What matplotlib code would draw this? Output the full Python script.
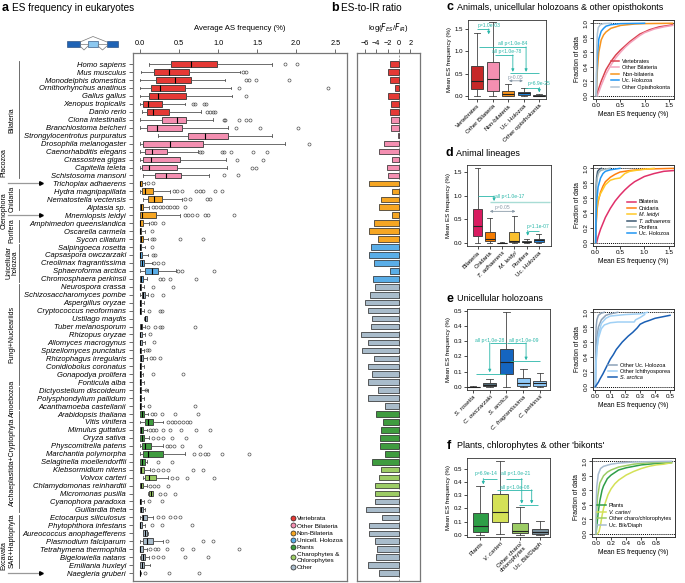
import numpy as np
import matplotlib.pyplot as plt
import matplotlib.transforms as mtransforms
from matplotlib.lines import Line2D
from matplotlib.patches import Rectangle

plt.rcParams['font.family'] = ['Liberation Sans', 'DejaVu Sans']

W, H = 685, 583

# ---------------- panel a / b data ----------------
species = [
    "Homo sapiens", "Mus musculus", "Monodelphis domestica", "Ornithorhynchus anatinus",
    "Gallus gallus", "Xenopus tropicalis", "Danio rerio", "Ciona intestinalis",
    "Branchiostoma belcheri", "Strongylocentrotus purpuratus", "Drosophila melanogaster",
    "Caenorhabditis elegans", "Crassostrea gigas", "Capitella teleta", "Schistosoma mansoni",
    "Trichoplax adhaerens", "Hydra magnipapillata", "Nematostella vectensis", "Aiptasia sp.",
    "Mnemiopsis leidyi", "Amphimedon queenslandica", "Oscarella carmela", "Sycon ciliatum",
    "Salpingoeca rosetta", "Capsaspora owczarzaki", "Creolimax fragrantissima",
    "Sphaeroforma arctica", "Chromosphaera perkinsii", "Neurospora crassa",
    "Schizosaccharomyces pombe", "Aspergillus oryzae", "Cryptococcus neoformans",
    "Ustilago maydis", "Tuber melanosporum", "Rhizopus oryzae", "Allomyces macrogynus",
    "Spizellomyces punctatus", "Rhizophagus irregularis", "Conidiobolus coronatus",
    "Gonapodya prolifera", "Fonticula alba", "Dictyostelium discoideum",
    "Polysphondylium pallidum", "Acanthamoeba castellanii", "Arabidopsis thaliana",
    "Vitis vinifera", "Mimulus guttatus", "Oryza sativa", "Physcomitrella patens",
    "Marchantia polymorpha", "Selaginella moellendorffii", "Klebsormidium nitens",
    "Volvox carteri", "Chlamydomonas reinhardtii", "Micromonas pusilla",
    "Cyanophora paradoxa", "Guillardia theta", "Ectocarpus siliculosus",
    "Phytophthora infestans", "Aureococcus anophagefferens", "Plasmodium falciparum",
    "Tetrahymena thermophila", "Bigelowiella natans", "Emiliania huxleyi", "Naegleria gruberi",
]
species_group = (["V"] * 7 + ["B"] * 8 + ["N"] * 8 + ["U"] * 5 + ["X"] * 16
                 + ["P"] * 7 + ["C"] * 4 + ["X"] * 10)

box_lo = [0.11, 0.01, 0.005, 0.005, 0.0, 0.005, 0.02, 0.005, 0.005, 0.235, 0.005, 0.005, 0.005,
          0.005, 0.035, 0.0, 0.005, 0.035, 0.0, 0.0, 0.0, 0.0, 0.0, 0.0, 0.0, 0.0, 0.0, 0.0,
          0.0, 0.0, 0.0, 0.0, 0.05, 0.0, 0.0, 0.0, 0.0, 0.0, 0.0, 0.0, 0.0, 0.0, 0.0, 0.0,
          0.0, 0.0, 0.0, 0.0, 0.0, 0.0, 0.0, 0.0, 0.035, 0.0, 0.10, 0.0, 0.0, 0.0, 0.0, 0.035,
          0.0, 0.0, 0.0, 0.0, 0.0]
box_q1 = [0.40, 0.18, 0.21, 0.135, 0.12, 0.04, 0.09, 0.28, 0.085, 0.62, 0.04, 0.065, 0.035,
          0.02, 0.19, 0.0, 0.02, 0.105, 0.0, 0.0, 0.0, 0.0, 0.0, 0.0, 0.0, 0.005, 0.07, 0.005,
          0.0, 0.02, 0.0, 0.0, 0.065, 0.0, 0.0, 0.0, 0.0, 0.005, 0.0, 0.0, 0.0, 0.0, 0.0, 0.0,
          0.005, 0.065, 0.005, 0.005, 0.02, 0.04, 0.005, 0.005, 0.07, 0.0, 0.12, 0.0, 0.005,
          0.02, 0.0, 0.04, 0.04, 0.0, 0.01, 0.005, 0.0]
box_med = [0.65, 0.37, 0.45, 0.255, 0.235, 0.105, 0.16, 0.47, 0.22, 0.83, 0.385, 0.15, 0.135,
           0.12, 0.33, 0.005, 0.065, 0.18, 0.01, 0.02, 0.005, 0.0, 0.01, 0.0, 0.005, 0.025,
           0.15, 0.015, 0.005, 0.04, 0.0, 0.0, 0.07, 0.01, 0.005, 0.005, 0.0, 0.015, 0.0,
           0.005, 0.0, 0.0, 0.0, 0.0, 0.02, 0.105, 0.01, 0.02, 0.065, 0.10, 0.03, 0.01, 0.12,
           0.01, 0.135, 0.0, 0.01, 0.04, 0.005, 0.065, 0.085, 0.005, 0.04, 0.02, 0.0]
box_q3 = [0.98, 0.63, 0.655, 0.57, 0.585, 0.28, 0.375, 0.59, 0.54, 1.13, 0.81, 0.35, 0.51,
          0.47, 0.52, 0.02, 0.17, 0.28, 0.04, 0.21, 0.04, 0.01, 0.04, 0.01, 0.02, 0.05, 0.225,
          0.035, 0.01, 0.07, 0.01, 0.01, 0.085, 0.03, 0.02, 0.02, 0.01, 0.04, 0.01, 0.015,
          0.015, 0.01, 0.015, 0.01, 0.05, 0.17, 0.04, 0.05, 0.135, 0.30, 0.065, 0.055, 0.21,
          0.035, 0.16, 0.01, 0.035, 0.085, 0.02, 0.095, 0.16, 0.035, 0.07, 0.055, 0.005]
box_hi = [1.69, 1.28, 1.09, 1.17, 1.175, 0.575, 0.78, 0.94, 1.12, 1.69, 1.86, 0.74, 1.10,
          1.11, 0.885, 0.065, 0.39, 0.535, 0.12, 0.51, 0.12, 0.07, 0.105, 0.065, 0.105, 0.15,
          0.455, 0.085, 0.05, 0.105, 0.05, 0.055, 0.095, 0.07, 0.065, 0.07, 0.05, 0.085, 0.05,
          0.04, 0.055, 0.105, 0.05, 0.05, 0.105, 0.30, 0.085, 0.12, 0.30, 0.575, 0.085, 0.13,
          0.36, 0.085, 0.17, 0.055, 0.07, 0.17, 0.065, 0.105, 0.30, 0.085, 0.12, 0.13, 0.01]
box_fliers = [
    [1.86, 2.01], [1.32, 1.355], [1.355, 1.39, 1.48, 1.91], [1.27, 2.41], [1.355],
    [0.68, 0.705, 0.825, 0.84], [0.855, 0.90, 0.93, 0.96], [1.07, 1.09, 1.27, 1.355, 1.41],
    [1.23, 1.54, 2.02], [], [2.16], [0.77, 0.79, 1.055, 1.08, 1.16, 1.45, 1.62], [1.24, 1.57],
    [1.44, 1.48], [1.07, 1.25], [0.105, 0.17],
    [0.43, 0.47, 0.535, 0.72, 0.77, 0.80, 0.96, 1.055], [0.575, 0.64, 0.855, 0.90],
    [0.17, 0.21, 0.255, 0.30, 0.34, 0.385, 0.43, 0.47, 0.575],
    [0.575, 0.62, 0.66, 0.725, 0.83, 0.875, 1.20], [0.15, 0.19, 0.30], [0.15],
    [0.15, 0.18, 0.51, 0.80], [0.15], [0.16, 0.19], [0.18, 0.235, 0.30], [0.49, 0.535, 0.95],
    [0.255, 0.30, 0.385, 0.72], [0.16, 0.42], [0.15, 0.29], [], [0.12, 0.255, 0.285], [],
    [0.105, 0.19, 0.255, 0.285, 0.71], [0.13], [0.18], [0.085, 0.12], [0.135, 0.18, 0.255],
    [], [0.16, 0.545], [], [0.08], [], [0.12, 0.705], [0.15, 0.19, 0.28, 0.45, 0.74],
    [0.355, 0.405, 0.45, 0.50, 0.545, 0.60, 0.64],
    [0.13, 0.17, 0.21, 0.30, 0.39, 0.52, 0.715, 0.89], [0.17, 0.235, 0.30, 0.405, 0.585],
    [0.34, 0.39, 0.43, 0.54, 0.77], [0.69, 0.77, 0.83, 0.875, 1.05, 1.40], [0.235, 0.415],
    [0.17, 0.235, 0.30, 0.36, 0.68, 0.80], [0.405, 0.47, 0.60, 0.95],
    [0.13, 0.185, 0.235, 0.355], [0.255, 0.32, 0.45], [0.12, 0.28], [],
    [0.235, 0.30, 0.385, 0.45, 0.51], [0.15, 0.28, 0.67], [], [0.34, 0.81, 0.93],
    [0.13, 0.19, 0.235, 0.34, 0.535, 0.68, 1.27], [0.17, 0.235, 0.30, 0.575, 0.865], [],
    [0.06, 0.375, 0.75],
]
es_ir_log = [-1.5, -1.9, -1.5, -0.65, -1.9, -1.35, -1.5, -1.35, -1.35, -0.1, -2.6, -3.5, -1.2,
             -2.1, -1.9, -5.3, -1.2, -3.1, -3.5, -1.2, -4.4, -5.35, -3.7, -5.0, -5.2, -4.4,
             -1.65, -4.6, -4.3, -5.05, -6.05, -5.5, -4.75, -5.0, -6.75, -5.5, -6.45, -4.45,
             -5.5, -4.75, -5.5, -3.7, -5.5, -2.5, -4.0, -2.8, -3.1, -3.4, -3.4, -2.4, -4.75,
             -3.2, -3.5, -4.2, -4.2, -4.3, -5.75, -2.95, -5.2, -5.35, -4.3, -3.9, -4.1, -5.5,
             -3.5]

group_names = {"V": "Vertebrata", "B": "Other Bilateria", "N": "Non-Bilateria",
               "U": "Unicell. Holozoa", "P": "Plants", "C": "Charophytes &\nChlorophytes",
               "X": "Other"}
group_colors = {"V": "#e53935", "B": "#f48fb1", "N": "#f6a623", "U": "#5aaee8",
                "P": "#3f9c3f", "C": "#9ccc65", "X": "#a9bccb"}

clade_spans = [  # (first row, last row, label, arrow?)
    (0, 14, "Bilateria", False), (15, 15, "Placozoa", True), (16, 18, "Cnidaria", False),
    (19, 19, "Ctenophora", True), (20, 22, "Porifera", False),
    (23, 27, "Unicellular\nholozoa", False), (28, 40, "Fungi+Nucleariids", False),
    (41, 43, "Amoebozoa", False), (44, 56, "Archaeplastida+Cryptophyta", False),
    (57, 63, "SAR+Haptophyta", False), (64, 64, "Excavata", True),
]
# rows by which an arrowed clade name sits above its arrow
arrow_label_shift = {"Placozoa": -2.6, "Ctenophora": -0.6, "Excavata": -2.2}

# ---------------- panels c-f data ----------------
c_names = ["Vertebrates", "Other Bilateria", "Non-bilateria", "Uc. Holozoa", "Other opisthokonta"]
c_lo = [0.0, 0.0, 0.0, 0.0, 0.0]
c_q1 = [0.15, 0.11, 0.01, 0.02, 0.005]
c_med = [0.34, 0.37, 0.04, 0.06, 0.01]
c_q3 = [0.66, 0.75, 0.12, 0.10, 0.02]
c_hi = [1.40, 1.65, 0.26, 0.19, 0.04]
c_colors = ["#c62828", "#f48fb1", "#f7941d", "#1e88e5", "#455a64"]

d_names = ["Bilateria", "Cnidaria", "T. adhaerens", "M. leidyi", "Porifera", "Uc. Holozoa"]
d_lo = [0.0, 0.0, 0.0, 0.0, 0.0, 0.0]
d_q1 = [0.14, 0.04, 0.0, 0.02, 0.005, 0.02]
d_med = [0.36, 0.09, 0.0, 0.04, 0.015, 0.05]
d_q3 = [0.72, 0.22, 0.003, 0.23, 0.04, 0.08]
d_hi = [1.60, 0.52, 0.005, 0.57, 0.09, 0.18]
d_colors = ["#d81b60", "#f57c00", "#37474f", "#fbc02d", "#90a4ae", "#1e88e5"]

e_names = ["S. rosetta", "C. owczarzaki", "S. arctica", "C. fragrantissima", "C. perkinsii"]
e_lo = [0.0, 0.0, 0.0, 0.0, 0.0]
e_q1 = [0.0, 0.004, 0.085, 0.007, 0.007]
e_med = [0.0, 0.011, 0.16, 0.027, 0.022]
e_q3 = [0.001, 0.022, 0.25, 0.055, 0.04]
e_hi = [0.002, 0.053, 0.49, 0.12, 0.089]
e_colors = ["#37474f", "#546e7a", "#1565c0", "#90caf9", "#90caf9"]

f_names = ["Plants", "V. carteri", "Other charo/\nchlorophytes", "Uc. Bik/Diaph"]
f_lo = [0.0, 0.008, 0.0, 0.0]
f_q1 = [0.02, 0.10, 0.01, 0.005]
f_med = [0.068, 0.17, 0.025, 0.02]
f_q3 = [0.163, 0.305, 0.088, 0.045]
f_hi = [0.37, 0.555, 0.21, 0.105]
f_colors = ["#2e9e47", "#d4e157", "#9ccc65", "#78909c"]

# ECDF curves: (label, colour, x values, y values)
c_ecdf = [
    ("Vertebrates", "#d9434f",
     [0, 0.02, 0.05, 0.1, 0.2, 0.3, 0.4, 0.5, 0.6, 0.7, 0.8, 0.9, 1.0, 1.1, 1.2, 1.3, 1.4, 1.5, 1.58],
     [0, 0.04, 0.1, 0.2, 0.36, 0.47, 0.56, 0.63, 0.69, 0.75, 0.8, 0.85, 0.88, 0.91, 0.93, 0.95, 0.96, 0.97, 0.98]),
    ("Other Bilateria", "#f4a3bd",
     [0.02, 0.05, 0.1, 0.2, 0.3, 0.4, 0.5, 0.6, 0.7, 0.8, 0.9, 1.0, 1.2, 1.4, 1.58],
     [0, 0.05, 0.14, 0.3, 0.42, 0.52, 0.6, 0.67, 0.73, 0.78, 0.83, 0.87, 0.92, 0.95, 0.97]),
    ("Non-bilateria", "#f7941d",
     [0, 0.01, 0.02, 0.05, 0.1, 0.15, 0.2, 0.3, 0.5, 0.8, 1.0, 1.58],
     [0, 0.2, 0.35, 0.6, 0.77, 0.84, 0.88, 0.93, 0.97, 0.99, 0.995, 1.0]),
    ("Uc. Holozoa", "#2196f3",
     [0, 0.005, 0.02, 0.05, 0.1, 0.15, 0.2, 0.3, 0.5, 1.0],
     [0, 0.3, 0.55, 0.78, 0.89, 0.93, 0.96, 0.98, 0.995, 1.0]),
    ("Other Opisthokonta", "#b0c4d4",
     [0, 0.005, 0.01, 0.02, 0.04, 0.08, 0.15, 0.3],
     [0, 0.5, 0.7, 0.85, 0.94, 0.98, 0.995, 1.0]),
]
d_ecdf = [
    ("Bilateria", "#e0306a",
     [0.02, 0.05, 0.1, 0.2, 0.3, 0.4, 0.5, 0.6, 0.7, 0.8, 1.0, 1.2, 1.4, 1.6],
     [0, 0.08, 0.18, 0.34, 0.46, 0.56, 0.64, 0.71, 0.77, 0.82, 0.89, 0.93, 0.96, 0.97]),
    ("Cnidaria", "#ff7f0e",
     [0, 0.01, 0.03, 0.05, 0.1, 0.15, 0.2, 0.3, 0.4, 0.5, 0.7, 1.0, 1.6],
     [0, 0.25, 0.45, 0.55, 0.68, 0.76, 0.82, 0.88, 0.92, 0.95, 0.97, 0.99, 1.0]),
    ("M. leidyi", "#ffc928",
     [0, 0.01, 0.03, 0.05, 0.1, 0.2, 0.3, 0.4, 0.5, 0.6, 0.7, 0.9, 1.2],
     [0, 0.3, 0.5, 0.58, 0.66, 0.78, 0.84, 0.86, 0.87, 0.93, 0.96, 0.98, 1.0]),
    ("T. adhaerens", "#3d5a73",
     [0, 0.003, 0.01, 0.02, 0.04, 0.08, 0.12],
     [0, 0.4, 0.75, 0.88, 0.96, 0.99, 1.0]),
    ("Porifera", "#a0b4b8",
     [0, 0.003, 0.01, 0.03, 0.06, 0.1, 0.2, 0.3],
     [0, 0.45, 0.7, 0.87, 0.94, 0.97, 0.99, 1.0]),
    ("Uc. Holozoa", "#2196f3",
     [0, 0.005, 0.02, 0.05, 0.1, 0.15, 0.2, 0.3, 0.5],
     [0, 0.3, 0.55, 0.75, 0.87, 0.93, 0.96, 0.98, 1.0]),
]
e_ecdf = [
    ("Other Uc. Holozoa", "#8da2b8",
     [0, 0.002, 0.005, 0.01, 0.02, 0.04, 0.06], [0, 0.6, 0.8, 0.9, 0.96, 0.99, 1.0]),
    (None, "#8da2b8",
     [0, 0.003, 0.01, 0.02, 0.04, 0.07, 0.1, 0.15], [0, 0.35, 0.65, 0.8, 0.9, 0.96, 0.98, 1.0]),
    ("Other Ichthyosporea", "#9fd0f5",
     [0, 0.003, 0.01, 0.02, 0.04, 0.06, 0.1, 0.15, 0.2, 0.26, 0.27, 0.3, 0.33],
     [0, 0.3, 0.5, 0.65, 0.78, 0.83, 0.86, 0.87, 0.87, 0.87, 0.9, 0.93, 0.97]),
    (None, "#9fd0f5",
     [0, 0.003, 0.01, 0.02, 0.04, 0.07, 0.1, 0.15, 0.2, 0.3, 0.35],
     [0, 0.25, 0.5, 0.7, 0.85, 0.92, 0.95, 0.96, 0.97, 0.98, 1.0]),
    ("S. arctica", "#1a5fb4",
     [0, 0.01, 0.02, 0.03, 0.05, 0.07, 0.09, 0.1, 0.12, 0.14, 0.16, 0.18, 0.2, 0.22, 0.25,
      0.28, 0.3, 0.33, 0.36, 0.4, 0.45, 0.5],
     [0, 0.03, 0.06, 0.1, 0.17, 0.25, 0.33, 0.37, 0.43, 0.5, 0.55, 0.6, 0.64, 0.68, 0.73,
      0.79, 0.84, 0.87, 0.89, 0.92, 0.94, 0.96]),
]
f_ecdf = [
    ("Plants", "#2e9e47",
     [0, 0.01, 0.03, 0.05, 0.08, 0.1, 0.15, 0.2, 0.3, 0.4, 0.6, 0.8, 1.0],
     [0, 0.1, 0.3, 0.45, 0.6, 0.66, 0.76, 0.81, 0.88, 0.91, 0.95, 0.97, 0.98]),
    ("V. carteri", "#d4e157",
     [0.02, 0.04, 0.06, 0.08, 0.1, 0.13, 0.16, 0.2, 0.25, 0.3, 0.4, 0.5, 0.6, 0.7, 0.8, 0.9, 1.0],
     [0, 0.03, 0.12, 0.25, 0.35, 0.45, 0.54, 0.62, 0.69, 0.74, 0.81, 0.86, 0.9, 0.93, 0.95, 0.96, 0.98]),
    ("Other charo/chlorophytes", "#9ccc65",
     [0, 0.005, 0.02, 0.05, 0.1, 0.15, 0.2, 0.3, 0.5, 0.7, 1.0],
     [0, 0.25, 0.5, 0.7, 0.8, 0.85, 0.88, 0.92, 0.96, 0.98, 0.99]),
    ("Uc. Bik/Diaph", "#a8bcd0",
     [0, 0.003, 0.01, 0.03, 0.06, 0.1, 0.2, 0.3, 0.5, 1.0],
     [0, 0.4, 0.65, 0.82, 0.9, 0.93, 0.96, 0.975, 0.99, 1.0]),
]

TEAL = "#2ab7a9"
GREY_ARROW = "#8a9aa8"

fig = plt.figure(figsize=(W / 100, H / 100), dpi=100)


def add_ax(l, t, r, b):
    return fig.add_axes([l / W, 1 - b / H, (r - l) / W, (b - t) / H])


def fig_text(x, y, s, **kw):
    fig.text(x / W, 1 - y / H, s, **kw)


def panel_title(x, y, letter, title, size=7.2):
    fig_text(x, y, letter, fontsize=9, fontweight="bold", va="center", ha="left")
    fig_text(x + 10, y, title, fontsize=size, va="center", ha="left")


def style_spines(ax, color="#555555", lw=0.7):
    for sp in ax.spines.values():
        sp.set_color(color)
        sp.set_linewidth(lw)


# ---------------- panel a ----------------
rows = np.arange(len(species))
axa = add_ax(133, 53, 347, 581)
stats_a = [dict(med=m, q1=a, q3=b, whislo=lo, whishi=hi, fliers=f)
           for a, m, b, lo, hi, f in zip(box_q1, box_med, box_q3, box_lo, box_hi, box_fliers)]
bp = axa.bxp(stats_a, positions=rows, widths=0.72, orientation="horizontal",
             patch_artist=True, manage_ticks=False, capwidths=0.35,
             boxprops=dict(lw=0.6, edgecolor="#333333"),
             medianprops=dict(color="black", lw=0.8),
             whiskerprops=dict(color="#555555", lw=0.6),
             capprops=dict(color="#555555", lw=0.6),
             flierprops=dict(marker="o", ms=2.2, mfc="none", mec="#444444", mew=0.45))
for patch, g in zip(bp["boxes"], species_group):
    patch.set_facecolor(group_colors[g])

axa.set_ylim(65.0, -1.4)
axa.set_xlim(-0.09, 2.65)
axa.xaxis.tick_top()
axa.xaxis.set_label_position("top")
axa.set_xticks([0, 0.5, 1.0, 1.5, 2.0, 2.5])
axa.set_xticklabels(["0.0", "0.5", "1.0", "1.5", "2.0", "2.5"])
axa.set_xlabel("Average AS frequency (%)", fontsize=5.6, labelpad=7)
axa.set_yticks(rows)
axa.set_yticklabels(species, fontsize=5.5, style="italic")
axa.tick_params(axis="y", length=3, width=0.6, pad=2, color="#555555")
axa.tick_params(axis="x", length=3, width=0.6, labelsize=5.3, pad=1.5, color="#555555")
style_spines(axa, "#777777", 0.9)

handles = [Line2D([], [], marker="o", ls="", mfc=group_colors[k], mec="#222222", ms=3.6, mew=0.5)
           for k in ["V", "B", "N", "U", "P", "C", "X"]]
axa.legend(handles, [group_names[k] for k in ["V", "B", "N", "U", "P", "C", "X"]],
           loc="lower right", bbox_to_anchor=(1.0, 0.012), fontsize=4.6, frameon=False,
           handletextpad=0.15, labelspacing=0.28, borderpad=0.2, handlelength=1.0)

# clade labels on the far left
trans = mtransforms.blended_transform_factory(fig.transFigure, axa.transData)
for first, last, label, arrow in clade_spans:
    mid = (first + last) / 2
    if arrow:
        fig.add_artist(Line2D([8 / W, 40 / W], [mid, mid], transform=trans, color="#999999", lw=0.9))
        fig.add_artist(Line2D([41 / W], [mid], transform=trans, marker=">", ms=2.6,
                              color="black", ls=""))
        fig.text(4 / W, mid + arrow_label_shift[label], label, transform=trans, rotation=90,
                 ha="center", va="center", fontsize=5.0)
    else:
        fig.add_artist(Line2D([18.5 / W, 18.5 / W], [first - 0.35, last + 0.35], transform=trans,
                              color="#555555", lw=0.6))
        fig.text(12 / W, mid, label, transform=trans, rotation=90, ha="center", va="center",
                 fontsize=5.0, linespacing=0.9)


# exon-skipping schematic
def fpt(x, y):
    return x / W, 1 - y / H


for x0, x1, col in [(67, 80, "#1f63b5"), (88, 98, "#8cc8f0"), (107, 118, "#1f63b5")]:
    fig.add_artist(Rectangle(fpt(x0, 46.5), (x1 - x0) / W, 5 / H, facecolor=col,
                             edgecolor="#1a3d6e", lw=0.4))
for xs, ys in [([80, 93, 107], [42, 36.5, 42]), ([80, 84, 88], [46, 50, 46]),
               ([98, 102.5, 107], [46, 50, 46]), ([80, 88], [44, 44]), ([98, 107], [44, 44])]:
    fig.add_artist(Line2D([x / W for x in xs], [1 - y / H for y in ys], color="#777777", lw=0.5))

panel_title(2, 8, "a", "ES frequency in eukaryotes")

# ---------------- panel b ----------------
axb = add_ax(357, 53, 420, 581)
axb.barh(rows, es_ir_log, height=0.7, color=[group_colors[g] for g in species_group],
         edgecolor="#222222", lw=0.5, zorder=2)
axb.axvline(0, color="#999999", ls=(0, (2, 1.5)), lw=0.7, zorder=1)
axb.set_ylim(65.0, -1.4)
axb.set_xlim(-7.4, 3.7)
axb.set_yticks([])
axb.xaxis.tick_top()
axb.xaxis.set_label_position("top")
axb.set_xticks([-6, -4, -2, 0, 2])
axb.set_xlabel(r"log($F_{ES}$/$F_{IR}$)", fontsize=5.6, labelpad=7)
axb.tick_params(axis="x", length=3, width=0.6, labelsize=5.3, pad=1.5, color="#555555")
style_spines(axb, "#777777", 0.9)
panel_title(331, 8, "b", "ES-to-IR ratio")


# ---------------- helpers for c-f ----------------
def box_panel(ax, names, lo, q1, med, q3, hi, colors, xlim, ylim, yticks, fmt):
    stats = [dict(med=m, q1=a, q3=b, whislo=l, whishi=h, fliers=[])
             for l, a, m, b, h in zip(lo, q1, med, q3, hi)]
    pos = np.arange(1, len(names) + 1)
    bpx = ax.bxp(stats, positions=pos, widths=0.78, patch_artist=True, manage_ticks=False,
                 showfliers=False, capwidths=0.4,
                 boxprops=dict(lw=0.6, edgecolor="#333333"),
                 medianprops=dict(color="#222222", lw=0.8),
                 whiskerprops=dict(color="#444444", lw=0.6),
                 capprops=dict(color="#444444", lw=0.6))
    for patch, col in zip(bpx["boxes"], colors):
        patch.set_facecolor(col)
    ax.set_xlim(*xlim)
    ax.set_ylim(*ylim)
    ax.set_xticks(pos)
    ax.set_xticklabels(names, rotation=45, ha="right", rotation_mode="anchor", fontsize=4.4,
                       linespacing=0.9)
    ax.set_yticks(yticks)
    ax.set_yticklabels([fmt.format(v) for v in yticks], fontsize=4.4)
    ax.set_ylabel("Mean ES frequency (%)", fontsize=4.4, labelpad=2)
    ax.tick_params(length=2, width=0.5, pad=1.2)
    style_spines(ax, "#333333", 0.6)


def ecdf_panel(ax, curves, xlim, xticks, xfmt):
    for label, col, xs, ys in curves:
        ax.plot(xs, ys, color=col, lw=1.1, label=label)
    ax.axhline(0, color="black", ls=(0, (1, 1)), lw=0.7, zorder=0)
    ax.axhline(1, color="black", ls=(0, (1, 1)), lw=0.7, zorder=0)
    ax.set_xlim(*xlim)
    ax.set_ylim(-0.045, 1.045)
    ax.set_xticks(xticks)
    ax.set_xticklabels([xfmt.format(v) for v in xticks], fontsize=4.6)
    ax.set_yticks([0, 0.2, 0.4, 0.6, 0.8, 1.0])
    ax.set_yticklabels(["0.0", "0.2", "0.4", "0.6", "0.8", "1.0"], fontsize=4.6, rotation=90,
                       va="center")
    ax.set_xlabel("Mean ES frequency (%)", fontsize=4.8, labelpad=2)
    ax.set_ylabel("Fraction of data", fontsize=4.8, labelpad=2)
    ax.tick_params(length=2, width=0.5, pad=1.2)
    style_spines(ax, "#333333", 0.7)
    leg = ax.legend(loc="lower right", bbox_to_anchor=(1.0, 0.07), fontsize=4.0, frameon=False,
                    handlelength=1.6, labelspacing=0.25, handletextpad=0.5, borderpad=0.2)
    return leg


def italicize(leg, names):
    for t in leg.get_texts():
        if t.get_text() in names:
            t.set_style("italic")


def teal_arrow(ax, x, y0, y1, color=TEAL):
    ax.annotate("", xy=(x, y1), xytext=(x, y0),
                arrowprops=dict(arrowstyle="-|>", color=color, lw=0.6, mutation_scale=4,
                                shrinkA=0, shrinkB=0))


def hline(ax, x0, x1, y, color=TEAL, lw=0.6):
    ax.plot([x0, x1], [y, y], color=color, lw=lw, solid_capstyle="butt")


def grey_double(ax, x0, x1, y):
    ax.annotate("", xy=(x1, y), xytext=(x0, y),
                arrowprops=dict(arrowstyle="<|-|>", color=GREY_ARROW, lw=0.6, mutation_scale=3.5,
                                shrinkA=0, shrinkB=0))


def note(ax, x, y, s, color=TEAL, ha="center"):
    ax.text(x, y, s, color=color, fontsize=3.6, ha=ha, va="center")


# ---------------- panel c ----------------
panel_title(447, 7, "c", "Animals, unicellular holozoans & other opisthokonts", size=6.5)
axc = add_ax(468, 20, 546, 99)
box_panel(axc, c_names, c_lo, c_q1, c_med, c_q3, c_hi, c_colors, (0.42, 5.43), (-0.067, 1.70),
          [0, 0.5, 1.0, 1.5], "{:.1f}")
hline(axc, 1.0, 1.75, 1.50)
teal_arrow(axc, 1.75, 1.50, 1.38)
note(axc, 1.05, 1.58, "p=1.0e-03", ha="left")
hline(axc, 1.15, 4.15, 1.10)
teal_arrow(axc, 4.15, 1.10, 0.54)
note(axc, 3.3, 1.17, "all p<1.0e-84")
hline(axc, 2.15, 3.3, 0.92)
teal_arrow(axc, 3.3, 0.92, 0.54)
note(axc, 2.9, 0.99, "all p<1.0e-78")
hline(axc, 3.1, 5.0, 0.52)
note(axc, 3.45, 0.42, "p>0.05", color=GREY_ARROW)
grey_double(axc, 3.05, 3.95, 0.34)
note(axc, 4.95, 0.27, "p=6.9e-25")
hline(axc, 4.05, 5.0, 0.19)
teal_arrow(axc, 5.0, 0.19, 0.08)

axc2 = add_ax(593, 20, 674, 99)
ecdf_panel(axc2, c_ecdf, (-0.07, 1.61), [0, 0.5, 1.0, 1.5], "{:.1f}")

# ---------------- panel d ----------------
panel_title(446, 153, "d", "Animal lineages", size=6.5)
axd = add_ax(467, 165, 551, 246)
box_panel(axd, d_names, d_lo, d_q1, d_med, d_q3, d_hi, d_colors, (0.14, 7.0), (-0.07, 1.66),
          [0, 0.5, 1.0, 1.5], "{:.1f}")
for lab in axd.get_xticklabels():
    if lab.get_text() in ("T. adhaerens", "M. leidyi"):
        lab.set_style("italic")
hline(axd, 1.05, 2.35, 1.0)
teal_arrow(axd, 2.35, 1.0, 0.89)
note(axd, 2.45, 0.99, "all p<1.0e-17", ha="left")
hline(axd, 2.0, 6.9, 0.87, color="#a8dcd5", lw=1.0)
note(axd, 3.0, 0.75, "p=0.05", color=GREY_ARROW)
grey_double(axd, 2.0, 4.1, 0.67)
note(axd, 5.9, 0.355, "p=1.1e-07")
hline(axd, 5.1, 6.0, 0.26)
teal_arrow(axd, 5.1, 0.26, 0.15)

axd2 = add_ax(593, 165, 674, 246)
leg_d = ecdf_panel(axd2, d_ecdf, (-0.055, 1.61), [0, 0.5, 1.0, 1.5], "{:.1f}")
italicize(leg_d, ("M. leidyi", "T. adhaerens"))

# ---------------- panel e ----------------
panel_title(447, 299, "e", "Unicellular holozoans", size=6.5)
axe = add_ax(467, 309, 550, 390)
box_panel(axe, e_names, e_lo, e_q1, e_med, e_q3, e_hi, e_colors, (0.64, 5.6), (-0.022, 0.513),
          [0, 0.1, 0.2, 0.3, 0.4, 0.5], "{:.1f}")
for lab in axe.get_xticklabels():
    lab.set_style("italic")
note(axe, 2.0, 0.305, "all p<1.0e-28")
hline(axe, 2.0, 2.95, 0.29)
teal_arrow(axe, 2.0, 0.29, 0.095)
hline(axe, 1.15, 2.9, 0.085)
note(axe, 4.05, 0.305, "all p<1.0e-09")
hline(axe, 3.05, 4.17, 0.29)
teal_arrow(axe, 4.17, 0.29, 0.175)
hline(axe, 3.2, 5.0, 0.168)

axe2 = add_ax(593, 309, 674, 390)
leg_e = ecdf_panel(axe2, e_ecdf, (-0.016, 0.527), [0, 0.1, 0.2, 0.3, 0.4, 0.5], "{:.1f}")
italicize(leg_e, ("S. arctica",))

# ---------------- panel f ----------------
panel_title(447, 446, "f", "Plants, chlorophytes & other 'bikonts'", size=6.5)
axf = add_ax(467, 458, 550, 537)
box_panel(axf, f_names, f_lo, f_q1, f_med, f_q3, f_hi, f_colors, (0.33, 4.5), (-0.017, 0.58),
          [0, 0.1, 0.2, 0.3, 0.4, 0.5], "{:.1f}")
for lab in axf.get_xticklabels():
    if lab.get_text() == "V. carteri":
        lab.set_style("italic")
note(axf, 1.3, 0.46, "p=6.9e-14")
hline(axf, 1.15, 1.85, 0.425)
teal_arrow(axf, 1.15, 0.425, 0.38)
note(axf, 2.75, 0.46, "all p<1.0e-21")
hline(axf, 2.3, 3.08, 0.425)
teal_arrow(axf, 3.08, 0.425, 0.235)
note(axf, 2.75, 0.36, "all p<1.0e-08")
hline(axf, 1.83, 3.58, 0.34)
teal_arrow(axf, 3.58, 0.34, 0.235)
hline(axf, 2.92, 3.92, 0.225)

axf2 = add_ax(592, 458, 675, 537)
leg_f = ecdf_panel(axf2, f_ecdf, (-0.053, 1.046), [0, 0.2, 0.4, 0.6, 0.8], "{:.1f}")
italicize(leg_f, ("V. carteri",))

fig.savefig("out.png", dpi=100)
